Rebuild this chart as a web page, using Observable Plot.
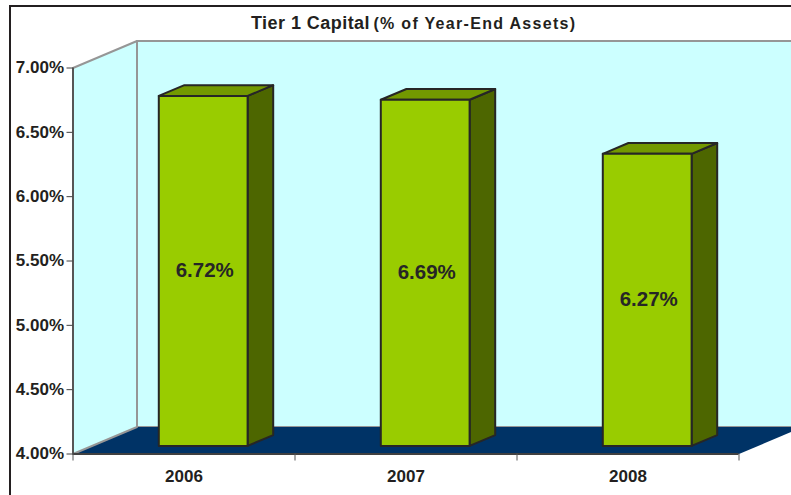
<!DOCTYPE html>
<html><head><meta charset="utf-8">
<script src="https://cdn.jsdelivr.net/npm/d3@7"></script>
<script src="https://cdn.jsdelivr.net/npm/@observablehq/plot@0.6"></script>
<style>
html,body{margin:0;padding:0;background:#fff;overflow:hidden}
#wrap{position:relative;width:791px;height:495px;overflow:hidden;font-family:"Liberation Sans",Arial,sans-serif;color:#231f20}
#border{position:absolute;left:9px;top:5px;right:-5px;bottom:-5px;border-left:2px solid #231f20;border-top:2px solid #231f20;pointer-events:none}
#title{position:absolute;left:251px;top:11px;white-space:nowrap;font-weight:bold;font-size:18px;line-height:24px;letter-spacing:.45px}
#title span{font-size:16px;letter-spacing:1.3px;margin-left:-2px}
#chart svg{display:block;background:none;overflow:hidden}
</style></head>
<body>
<div id="wrap"><div id="chart"></div><div id="border"></div>
<div id="title">Tier 1 Capital <span>(% of Year-End Assets)</span></div></div>
<script>
const years = ["2006", "2007", "2008"];
const values = [6.72, 6.69, 6.27];
const yTicks = [4, 4.5, 5, 5.5, 6, 6.5, 7];
const xBoundaries = [0, 1, 2, 3];

// oblique 3-D projection, expressed in data units
const depthX = 64 / 222, depthY = 27 / (386 / 3);
const P = (cat, val, d) => ({x: cat + d * depthX, y: val + d * depthY});
const yBase = 4, yTop = 7, n = years.length;
const barW = 0.4, d0 = 0.3, d1 = 0.7;

const poly = (id, pts) => [...pts, pts[0]].map(p => ({...p, id}));
const backWall = poly("b", [P(0, yBase, 1), P(n, yBase, 1), P(n, yTop, 1), P(0, yTop, 1)]);
const leftWall = poly("l", [P(0, yBase, 0), P(0, yBase, 1), P(0, yTop, 1), P(0, yTop, 0)]);
const floor = poly("f", [P(0, yBase, 0), P(n, yBase, 0), P(n, yBase, 1), P(0, yBase, 1)]);
const bars = values.map((v, i) => ({v, l: i + .5 - barW / 2, r: i + .5 + barW / 2, i}));
const sides = bars.flatMap(b => poly(b.i, [P(b.r, yBase, d0), P(b.r, yBase, d1), P(b.r, b.v, d1), P(b.r, b.v, d0)]));
const tops = bars.flatMap(b => poly(b.i, [P(b.l, b.v, d0), P(b.r, b.v, d0), P(b.r, b.v, d1), P(b.l, b.v, d1)]));
const fronts = bars.flatMap(b => poly(b.i, [P(b.l, yBase, d0), P(b.r, yBase, d0), P(b.r, b.v, d0), P(b.l, b.v, d0)]));
const labels = bars.map(b => ({...P(b.i + .5, (b.v + yBase) / 2, d0), t: b.v.toFixed(2) + "%"}));

const lineOpts = {x: "x", y: "y", z: "id"};
const edge = "#969696", ink = "#262626";
const chart = Plot.plot({
  width: 791, height: 495,
  marginLeft: 72.5, marginRight: 52.5, marginTop: 67.5, marginBottom: 41.5,
  style: {background: "none", fontFamily: "'Liberation Sans',Arial,sans-serif"},
  x: {type: "linear", domain: [0, 3]},
  y: {type: "linear", domain: [4, 7]},
  marks: [
    Plot.line(backWall, {...lineOpts, fill: "#CCFFFF", stroke: edge, strokeWidth: 2}),
    Plot.line(floor, {...lineOpts, fill: "#003366", stroke: "none"}),
    Plot.line(leftWall, {...lineOpts, fill: "#CCFFFF", stroke: edge, strokeWidth: 2}),
    Plot.ruleY([yBase], {stroke: "#404040", strokeWidth: 2}),
    Plot.ruleX([0], {y1: yBase, y2: yTop, stroke: "#404040", strokeWidth: 1.5}),
    Plot.line(sides, {...lineOpts, fill: "#4D6600", stroke: ink, strokeWidth: 2, strokeLinejoin: "round"}),
    Plot.line(tops, {...lineOpts, fill: "#739900", stroke: ink, strokeWidth: 2, strokeLinejoin: "round"}),
    Plot.line(fronts, {...lineOpts, fill: "#99CC00", stroke: ink, strokeWidth: 2, strokeLinejoin: "round"}),
    Plot.text(labels, {x: "x", y: "y", text: "t", dx: 1.5, fontSize: 20.5, fontWeight: "bold", fill: ink}),
    Plot.axisY({ticks: yTicks, tickFormat: d => d.toFixed(2) + "%", tickSize: 6, tickPadding: 3,
      fontSize: 17, fontWeight: "bold", label: null, color: "#231f20", stroke: "#404040"}),
    Plot.axisX({ticks: xBoundaries, tickFormat: () => "", tickSize: 7, label: null, stroke: "#555"}),
    Plot.axisX({ticks: [.5, 1.5, 2.5], tickFormat: d => years[d - .5], tickSize: 0, tickPadding: 16,
      fontSize: 17, fontWeight: "bold", label: null, color: "#231f20"})
  ]
});
document.getElementById("chart").append(chart);
</script>
</body></html>
